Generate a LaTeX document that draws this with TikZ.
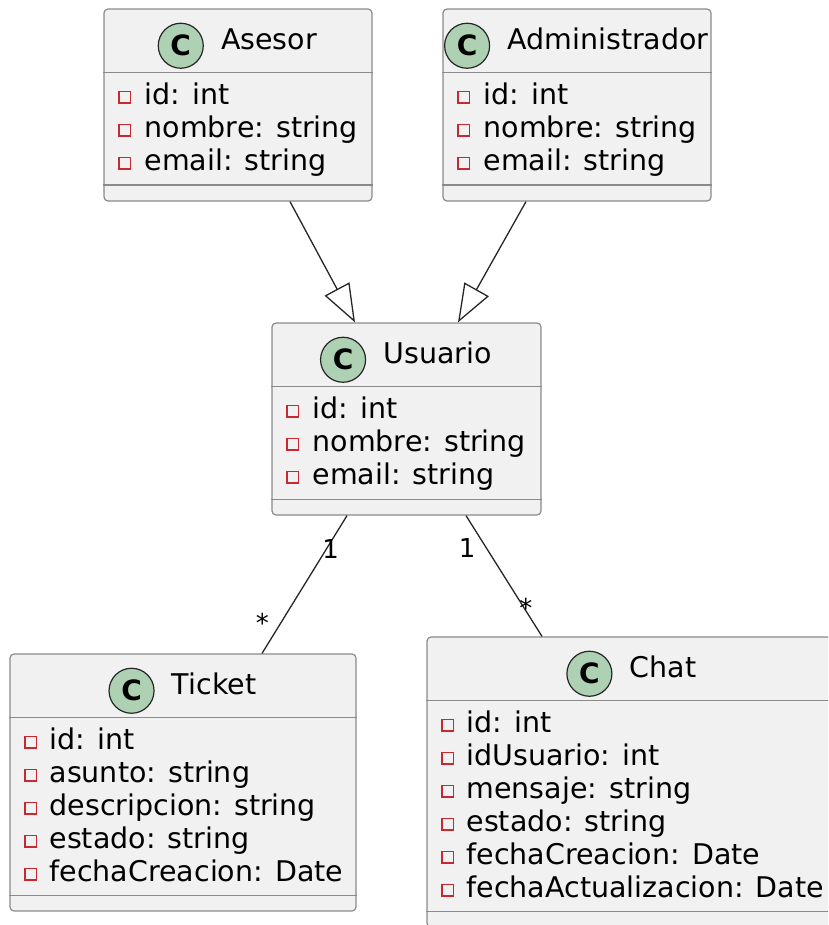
\documentclass[tikz,border=0pt]{standalone}
\usepackage{fontspec}
\setmainfont{DejaVu Sans}
\usetikzlibrary{arrows.meta,positioning}
\definecolor{boxfill}{HTML}{F1F1F1}
\definecolor{boxline}{HTML}{8A8A8A}
\definecolor{cfill}{HTML}{ADD1B2}
\definecolor{privred}{HTML}{C82930}
\tikzstyle{classbox}=[draw=boxline, fill=boxfill, line width=1.2pt, rounded corners=4pt, inner sep=0pt]
\tikzstyle{ctitle}=[anchor=base, inner sep=0pt, text height=0.73em, text depth=0pt, font=\fontsize{28.5}{33}\selectfont]
\tikzstyle{cmark}=[circle, draw=black!85, fill=cfill, line width=1.2pt, minimum size=45pt, inner sep=0pt, font=\fontsize{28}{30}\selectfont\bfseries]
\tikzstyle{attr}=[anchor=base west, inner sep=0pt, font=\fontsize{28.5}{33}\selectfont]
\tikzstyle{priv}=[draw=privred, line width=1.6pt, minimum size=11.5pt, inner sep=0pt]
\tikzstyle{divider}=[draw=boxline, line width=1.2pt]
\tikzstyle{mult}=[inner sep=0pt, font=\fontsize{26}{28}\selectfont]
\tikzstyle{extends}=[-{Triangle[open, length=38pt, width=28pt]}, line width=1.3pt, draw=black!85]
\tikzstyle{assoc}=[line width=1.3pt, draw=black!85]

\begin{document}
\begin{tikzpicture}[x=1pt, y=-1pt]
    \useasboundingbox (0,0) rectangle (828,925);
    \clip (0,0) rectangle (828,925);

    % Asesor
    \node[classbox, minimum width=268pt, minimum height=192pt] (asesor) at (238,105) {};
    \node[ctitle] (asesorT) at ([xshift=31pt, yshift=-41pt]asesor.north) {Asesor};
    \node[cmark, left=17pt of asesorT] (asesorC) {C};
    \draw[divider] ([yshift=-64pt]asesor.north west) -- ([yshift=-64pt]asesor.north east);
    \draw[divider] ([yshift=16.5pt]asesor.south west) -- ([yshift=16.5pt]asesor.south east);
    \foreach \a [count=\i] in {id: int, nombre: string, email: string} {
        \node[priv] (asesor-q\i) at ([xshift=21.5pt, yshift=-56pt-33pt*\i]asesor.north west) {};
        \node[attr] (asesor-a\i) at ([xshift=41pt, yshift=-63pt-33pt*\i]asesor.north west) {\a};
    }

    % Administrador
    \node[classbox, minimum width=268pt, minimum height=192pt] (admin) at (577,105) {};
    \node[ctitle] (adminT) at ([xshift=31pt, yshift=-41pt]admin.north) {Administrador};
    \node[cmark, left=17pt of adminT] (adminC) {C};
    \draw[divider] ([yshift=-64pt]admin.north west) -- ([yshift=-64pt]admin.north east);
    \draw[divider] ([yshift=16.5pt]admin.south west) -- ([yshift=16.5pt]admin.south east);
    \foreach \a [count=\i] in {id: int, nombre: string, email: string} {
        \node[priv] (admin-q\i) at ([xshift=21.5pt, yshift=-56pt-33pt*\i]admin.north west) {};
        \node[attr] (admin-a\i) at ([xshift=41pt, yshift=-63pt-33pt*\i]admin.north west) {\a};
    }

    % Usuario
    \node[classbox, minimum width=269pt, minimum height=192pt] (usuario) at (406.5,419) {};
    \node[ctitle] (usuarioT) at ([xshift=31pt, yshift=-41pt]usuario.north) {Usuario};
    \node[cmark, left=17pt of usuarioT] (usuarioC) {C};
    \draw[divider] ([yshift=-64pt]usuario.north west) -- ([yshift=-64pt]usuario.north east);
    \draw[divider] ([yshift=16.5pt]usuario.south west) -- ([yshift=16.5pt]usuario.south east);
    \foreach \a [count=\i] in {id: int, nombre: string, email: string} {
        \node[priv] (usuario-q\i) at ([xshift=21.5pt, yshift=-56pt-33pt*\i]usuario.north west) {};
        \node[attr] (usuario-a\i) at ([xshift=41pt, yshift=-63pt-33pt*\i]usuario.north west) {\a};
    }

    % Ticket
    \node[classbox, minimum width=346pt, minimum height=257pt] (ticket) at (183,782.5) {};
    \node[ctitle] (ticketT) at ([xshift=31pt, yshift=-41pt]ticket.north) {Ticket};
    \node[cmark, left=17pt of ticketT] (ticketC) {C};
    \draw[divider] ([yshift=-64pt]ticket.north west) -- ([yshift=-64pt]ticket.north east);
    \draw[divider] ([yshift=16.5pt]ticket.south west) -- ([yshift=16.5pt]ticket.south east);
    \foreach \a [count=\i] in {id: int, asunto: string, descripcion: string, estado: string, fechaCreacion: Date} {
        \node[priv] (ticket-q\i) at ([xshift=21.5pt, yshift=-56pt-33pt*\i]ticket.north west) {};
        \node[attr] (ticket-a\i) at ([xshift=40pt, yshift=-63pt-33pt*\i]ticket.north west) {\a};
    }

    % Chat
    \node[classbox, minimum width=410pt, minimum height=290pt] (chat) at (632,782) {};
    \node[ctitle] (chatT) at ([xshift=31pt, yshift=-41pt]chat.north) {Chat};
    \node[cmark, left=17pt of chatT] (chatC) {C};
    \draw[divider] ([yshift=-64pt]chat.north west) -- ([yshift=-64pt]chat.north east);
    \draw[divider] ([yshift=16.5pt]chat.south west) -- ([yshift=16.5pt]chat.south east);
    \foreach \a [count=\i] in {id: int, idUsuario: int, mensaje: string, estado: string, fechaCreacion: Date, fechaActualizacion: Date} {
        \node[priv] (chat-q\i) at ([xshift=21.5pt, yshift=-56pt-33pt*\i]chat.north west) {};
        \node[attr] (chat-a\i) at ([xshift=40pt, yshift=-63pt-33pt*\i]chat.north west) {\a};
    }

    % relations
    \draw[extends] ([xshift=52pt]asesor.south) -- ([xshift=-51.5pt]usuario.north);
    \draw[extends] ([xshift=-51pt]admin.south) -- ([xshift=51.5pt]usuario.north);
    \draw[assoc] ([xshift=-59.5pt]usuario.south) --
        node[mult, pos=0.24, xshift=4pt] (m1) {1}
        node[mult, pos=0.75, xshift=-21pt, yshift=-4pt] (m2) {*}
        ([xshift=79pt]ticket.north);
    \draw[assoc] ([xshift=59.5pt]usuario.south) --
        node[mult, pos=0.27, xshift=-19.5pt] (m3) {1}
        node[mult, pos=0.73, xshift=4.5pt, yshift=-4pt] (m4) {*}
        ([xshift=-90pt]chat.north);
\end{tikzpicture}
\end{document}
